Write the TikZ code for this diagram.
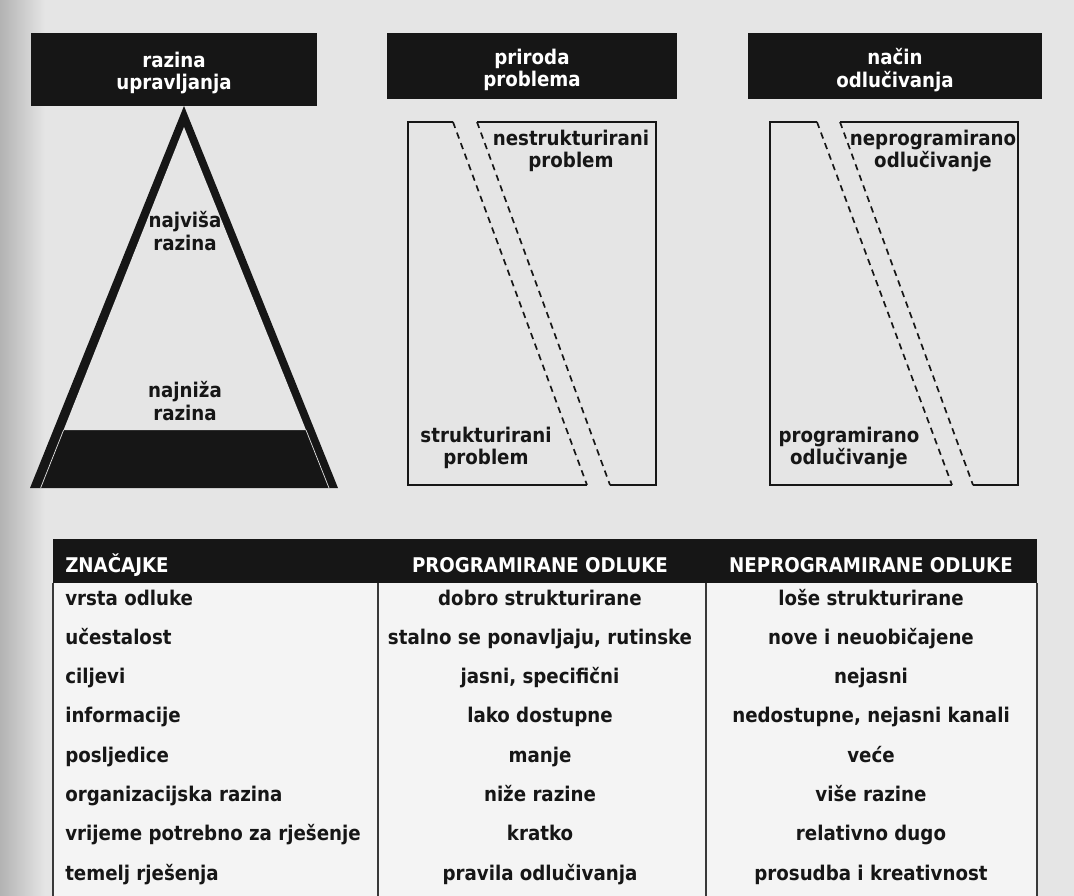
\documentclass[tikz,border=0pt]{standalone}
\usepackage{fontspec}
\setmainfont{DejaVu Sans Condensed}
\usepackage{xcolor}
\usepackage{tikz}
\usetikzlibrary{
	calc,
	positioning
}

\definecolor{paper}{RGB}{229,229,229}
\definecolor{sheet}{RGB}{244,244,244}
\definecolor{ink}{RGB}{22,22,22}

\tikzset{
	txt/.style={font=\bfseries\fontsize{14.4}{16}\selectfont, text=ink, inner sep=0pt, align=center},
	headtxt/.style={txt, text=white},
	frame/.style={draw=ink, line width=1.2pt},
	cut/.style={draw=ink, line width=1.2pt, dash pattern=on 4.5pt off 3.5pt},
	rule/.style={draw=ink!85, line width=1.1pt}
}

\begin{document}
\begin{tikzpicture}[x=0.025cm, y=-0.025cm]
		\useasboundingbox (0,0) rectangle (1074,896);
		\fill[paper] (0,0) rectangle (1074,896);
		\shade[left color=gray!60, right color=paper] (0,0) rectangle (45,896);
		% naslovi
		\fill[ink] (31,33) rectangle (317,106);
		\fill[ink] (387,33) rectangle (677,99);
		\fill[ink] (748,33) rectangle (1042,99);
		\node[headtxt] (razina) at (174,73) {razina\\upravljanja};
		\node[headtxt] (priroda) at (532,70) {priroda\\problema};
		\node[headtxt] (nacin) at (895,70) {način\\odlučivanja};
		% piramida
		\fill[ink] (184,106) -- (338,488) -- (30,488) -- cycle;
		\fill[paper] (184,127) -- (306,430) -- (63.6,430) -- cycle;
		\draw[paper, line width=0.5pt] (63.6,430) -- (40.6,488);
		\draw[paper, line width=0.5pt] (306,430) -- (329,488);
		\node[txt] (vrh) at (185,231) {najviša\\razina};
		\node[txt] (dno) at (185,401) {najniža\\razina};
		% priroda problema
		\draw[frame] (453,122) -- (408,122) -- (408,485) -- (587,485);
		\draw[frame] (477,122) -- (656,122) -- (656,485) -- (610,485);
		\draw[cut] (453,122) -- (587,485);
		\draw[cut] (477,122) -- (610,485);
		\node[txt] (nestr) at (571,151) {nestrukturirani\\problem};
		\node[txt] (str) at (486,448) {strukturirani\\problem};
		% način odlučivanja
		\draw[frame] (817,122) -- (770,122) -- (770,485) -- (952,485);
		\draw[frame] (840,122) -- (1018,122) -- (1018,485) -- (973,485);
		\draw[cut] (817,122) -- (952,485);
		\draw[cut] (840,122) -- (973,485);
		\node[txt] (neprog) at (933,151) {neprogramirano\\odlučivanje};
		\node[txt] (prog) at (849,448) {programirano\\odlučivanje};
		% tablica
		\fill[sheet] (53,583) rectangle (1037,896);
		\fill[ink] (53,539) rectangle (1037,583);
		\draw[rule] (53,583) -- (53,896);
		\draw[rule] (378,583) -- (378,896);
		\draw[rule] (706,583) -- (706,896);
		\draw[rule] (1037,583) -- (1037,896);
		\node[headtxt, anchor=base west] (znac) at (65,572) {ZNAČAJKE};
		\node[headtxt, anchor=base] (prodl) at (540,572) {PROGRAMIRANE ODLUKE};
		\node[headtxt, anchor=base] (neodl) at (871,572) {NEPROGRAMIRANE ODLUKE};
		\foreach \a/\b/\c [count=\i] in {
			vrsta odluke/dobro strukturirane/loše strukturirane,
			učestalost/{stalno se ponavljaju, rutinske}/nove i neuobičajene,
			ciljevi/{jasni, specifični}/nejasni,
			informacije/lako dostupne/{nedostupne, nejasni kanali},
			posljedice/manje/veće,
			organizacijska razina/niže razine/više razine,
			vrijeme potrebno za rješenje/kratko/relativno dugo,
			temelj rješenja/pravila odlučivanja/prosudba i kreativnost} {
			\node[txt, anchor=base west] (r\i a) at (65,{605+(\i-1)*39.3}) {\a};
			\node[txt, anchor=base] (r\i b) at (540,{605+(\i-1)*39.3}) {\b};
			\node[txt, anchor=base] (r\i c) at (871,{605+(\i-1)*39.3}) {\c};
		}
	\end{tikzpicture}
\end{document}
